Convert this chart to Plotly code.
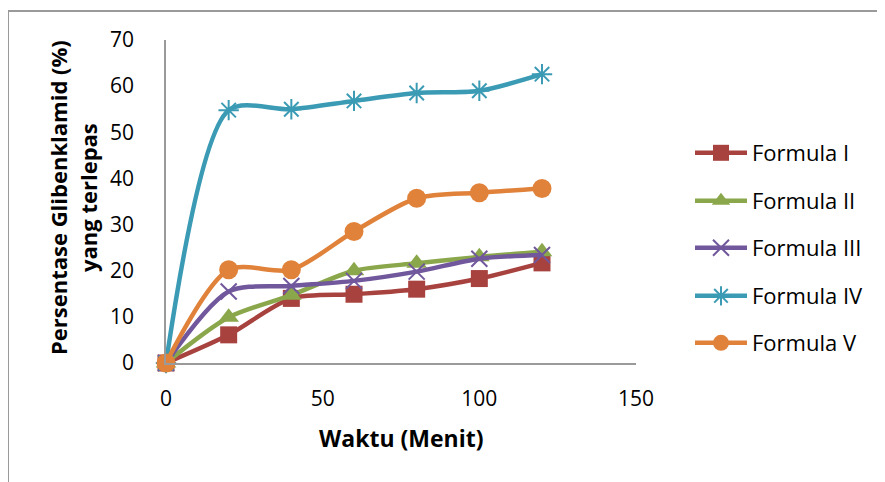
import plotly.graph_objects as go

waktu = [0, 20, 40, 60, 80, 100, 120]
formula_1 = [0, 6.1, 14.0, 14.9, 16.0, 18.3, 21.7]
formula_2 = [0, 9.9, 14.7, 20.0, 21.6, 23.0, 24.1]
formula_3 = [0, 15.5, 16.7, 17.8, 19.8, 22.6, 23.4]
formula_4 = [0, 54.8, 55.0, 56.8, 58.5, 59.0, 62.6]
formula_5 = [0, 20.2, 20.2, 28.5, 35.7, 36.9, 37.8]

names = ["Formula I", "Formula II", "Formula III", "Formula IV", "Formula V"]
series = [formula_1, formula_2, formula_3, formula_4, formula_5]
colors = ["#A8423F", "#8AA74B", "#71579C", "#3B9BB4", "#E0823A"]
symbols = ["square", "triangle-up", "x-thin-open", "asterisk-open", "circle"]
sizes = [17, 18, 16, 17, 19]

FONT = "Open Sans"
OFF = 8  # default body margin of the page
W, H = 885, 482
L, R, T, B = 166 - OFF, W - 636 + OFF, 40 - OFF, H - 363 + OFF
PW, PH = W - L - R, H - T - B


def px_x(x):
    return (x - OFF - L) / PW


def px_y(y):
    return (H - B - (y - OFF)) / PH


legend_y = [153, 201, 248, 296, 343]

fig = go.Figure()
for i, (name, ys, c, s, sz) in enumerate(zip(names, series, colors, symbols, sizes)):
    fig.add_trace(go.Scatter(
        x=waktu, y=ys, name=name, mode="lines+markers", cliponaxis=False,
        line=dict(color=c, width=4.5, shape="spline", smoothing=0.8),
        marker=dict(symbol=s, size=sz, color=c, line=dict(color=c, width=2 if "open" in s else 0)),
        legend="legend" if i == 0 else f"legend{i + 1}",
    ))

layout = dict(
    width=W, height=H,
    margin=dict(l=L, r=R, t=T, b=B),
    paper_bgcolor="white", plot_bgcolor="white",
    font=dict(family=FONT, size=21, color="black"),
    showlegend=True,
    xaxis=dict(range=[0, 150], tickvals=[0, 50, 100, 150], showgrid=False, zeroline=False,
               showline=True, linecolor="#9a9a9a", linewidth=1.5, ticks="",
               tickfont=dict(family=FONT, size=21), ticklabelstandoff=16),
    yaxis=dict(range=[0, 70], tickvals=[0, 10, 20, 30, 40, 50, 60, 70], showgrid=False, zeroline=False,
               showline=True, linecolor="#9a9a9a", linewidth=1.5, ticks="",
               tickfont=dict(family=FONT, size=21), ticklabelstandoff=26),
    shapes=[dict(type="rect", xref="paper", yref="paper",
                 x0=px_x(8), x1=px_x(910), y0=px_y(520), y1=px_y(11),
                 line=dict(color="#9a9a9a", width=2), layer="below")],
    annotations=[
        dict(text="<b>Waktu (Menit)</b>", xref="paper", yref="paper",
             x=px_x(401), y=px_y(438), showarrow=False, xanchor="center", yanchor="middle",
             font=dict(family=FONT, size=23)),
        dict(text="<b>Persentase Glibenklamid (%)</b>", xref="paper", yref="paper",
             x=px_x(58), y=px_y(198), showarrow=False, textangle=-90,
             xanchor="center", yanchor="middle", font=dict(family=FONT, size=22)),
        dict(text="<b>yang terlepas</b>", xref="paper", yref="paper",
             x=px_x(88), y=px_y(198), showarrow=False, textangle=-90,
             xanchor="center", yanchor="middle", font=dict(family=FONT, size=22)),
    ],
)
for i, ly in enumerate(legend_y):
    key = "legend" if i == 0 else f"legend{i + 1}"
    layout[key] = dict(x=px_x(690), y=px_y(ly), xanchor="left", yanchor="middle",
                       font=dict(family=FONT, size=22, color="black"),
                       bgcolor="rgba(0,0,0,0)", borderwidth=0, itemwidth=52)

fig.update_layout(**layout)
fig.write_html("out.html")
